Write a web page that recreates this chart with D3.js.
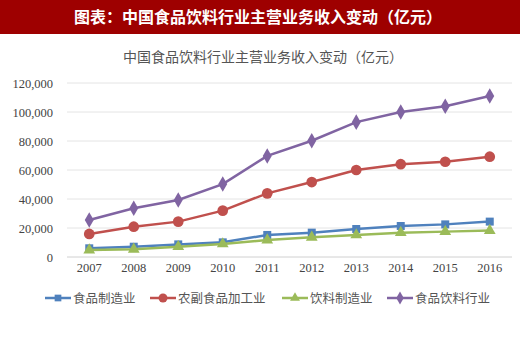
<!DOCTYPE html>
<html>
<head>
<meta charset="utf-8">
<script src="https://cdn.jsdelivr.net/npm/d3@7"></script>
<style>
  body { margin: 0; background: #fff; }
  svg { display: block; }
</style>
</head>
<body>
<script>
var years = ["2007", "2008", "2009", "2010", "2011", "2012", "2013", "2014", "2015", "2016"];
var foodMfg = [6000, 7100, 8700, 10100, 15200, 16800, 19300, 21400, 22500, 24400];
var agriProc = [15900, 20900, 24400, 32000, 43900, 51700, 60000, 64000, 65700, 69200];
var drinkMfg = [4800, 5300, 7100, 9000, 11700, 13600, 15200, 16800, 17500, 18200];
var foodDrink = [25500, 33600, 39300, 50300, 69700, 80200, 93000, 100000, 104000, 111000];
var yTicks = [0, 20000, 40000, 60000, 80000, 100000, 120000];

var series = [
    { name: "食品制造业", values: foodMfg, color: "#4F81BD", marker: d3.symbolSquare, size: 64 },
    { name: "农副食品加工业", values: agriProc, color: "#C0504D", marker: d3.symbolCircle, size: 90 },
    { name: "饮料制造业", values: drinkMfg, color: "#9BBB59", marker: d3.symbolTriangle, size: 60 },
    { name: "食品饮料行业", values: foodDrink, color: "#8064A2", marker: d3.symbolDiamond, size: 70 }
];

var width = 520, height = 351;
var svg = d3.select("body").append("svg")
    .attr("width", width)
    .attr("height", height);

// banner
svg.append("rect")
    .attr("x", 0).attr("y", 0)
    .attr("width", width).attr("height", 34)
    .attr("fill", "#9E0000");
svg.append("text")
    .attr("x", width / 2 - 2).attr("y", 23)
    .attr("text-anchor", "middle")
    .attr("fill", "#fff")
    .style("font-family", "'Noto Sans CJK SC'")
    .style("font-weight", "bold")
    .style("font-size", "16px")
    .text("图表：中国食品饮料行业主营业务收入变动（亿元）");

// chart title
svg.append("text")
    .attr("x", 263).attr("y", 62)
    .attr("text-anchor", "middle")
    .attr("fill", "#555")
    .style("font-family", "'Noto Sans CJK SC'")
    .style("font-size", "14px")
    .text("中国食品饮料行业主营业务收入变动（亿元）");

var x = d3.scaleBand().domain(years).range([67, 512]);
var y = d3.scaleLinear().domain([0, 120000]).range([257, 83]);

// grid
svg.append("g")
    .selectAll("line")
    .data(yTicks)
    .enter()
    .append("line")
    .attr("x1", 67).attr("x2", 512)
    .attr("y1", d => y(d)).attr("y2", d => y(d))
    .attr("stroke", d => d === 0 ? "#d0d0d0" : "#e4e4e4")
    .attr("stroke-width", 1);

// y axis labels
var yAxis = d3.axisLeft(y).tickValues(yTicks).tickSize(0).tickPadding(0)
    .tickFormat(d3.format(","));
var yg = svg.append("g").attr("transform", "translate(53,0)").call(yAxis);
yg.select(".domain").remove();
yg.selectAll("text")
    .attr("fill", "#444")
    .style("font-family", "'Liberation Serif'")
    .style("font-size", "12.5px");

// x axis labels
var xAxis = d3.axisBottom(x).tickSize(0).tickPadding(0);
var xg = svg.append("g").attr("transform", "translate(0,263)").call(xAxis);
xg.select(".domain").remove();
xg.selectAll("text")
    .attr("fill", "#444")
    .style("font-family", "'Liberation Serif'")
    .style("font-size", "12.5px");

var line = d3.line()
    .x((d, i) => x(years[i]) + x.bandwidth() / 2)
    .y(d => y(d));

series.forEach(function(s) {
    svg.append("path")
        .datum(s.values)
        .attr("d", line)
        .attr("fill", "none")
        .attr("stroke", s.color)
        .attr("stroke-width", 2.5);
    svg.append("g")
        .selectAll("path")
        .data(s.values)
        .enter()
        .append("path")
        .attr("transform", (d, i) => "translate(" + (x(years[i]) + x.bandwidth() / 2) + "," + y(d) + ")")
        .attr("d", d3.symbol().type(s.marker).size(s.size)())
        .attr("fill", s.color);
});

// legend
var legendX = [45, 150, 282, 387];
var legend = svg.append("g")
    .selectAll("g")
    .data(series)
    .enter()
    .append("g")
    .attr("transform", (d, i) => "translate(" + legendX[i] + ",298)");
legend.append("line")
    .attr("x1", 0).attr("x2", 26)
    .attr("stroke", d => d.color)
    .attr("stroke-width", 2.5);
legend.append("path")
    .attr("transform", "translate(13,0)")
    .attr("d", d => d3.symbol().type(d.marker).size(d.size * 0.7)())
    .attr("fill", d => d.color);
legend.append("text")
    .attr("x", 28).attr("y", 5)
    .attr("fill", "#555")
    .style("font-family", "'Noto Sans CJK SC'")
    .style("font-size", "12.5px")
    .text(d => d.name);
</script>
</body>
</html>
